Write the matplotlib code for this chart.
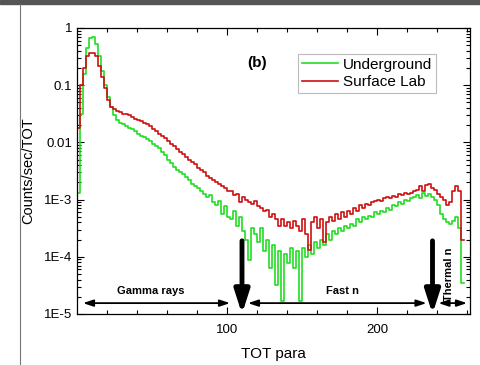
import numpy as np
import matplotlib.pyplot as plt
from matplotlib.lines import Line2D
from matplotlib.patches import Rectangle

plt.rcParams['font.family'] = ['Liberation Sans', 'DejaVu Sans']

# TOT bins (left edges), width 2
bin_width = 2

# Underground spectrum (counts/sec/TOT)
underground = [0.0013, 0.032, 0.16, 0.45, 0.68, 0.69, 0.52, 0.32, 0.18, 0.1,
               0.063, 0.042, 0.03, 0.025, 0.022, 0.021, 0.019, 0.018, 0.017, 0.016,
               0.014, 0.013, 0.0126, 0.0115, 0.0105, 0.0095, 0.0087, 0.0079, 0.0069, 0.006,
               0.005, 0.0043, 0.0037, 0.0033, 0.003, 0.0028, 0.0025, 0.0022, 0.0019, 0.0017,
               0.0016, 0.0014, 0.00126, 0.0011, 0.0012, 0.00089, 0.00079, 0.00095, 0.00056, 0.00076,
               0.0005, 0.00045, 0.00063, 0.00035, 0.0005, 0.00028, 0.0002, 8.9e-5, 0.00032, 0.00025,
               0.00018, 0.00032, 0.000126, 0.0002, 6.3e-5, 0.00016, 3.2e-5, 0.000126, 1.7e-5, 0.000112,
               7.9e-5, 0.00014, 6.3e-5, 0.000126, 1.7e-5, 0.00014, 1e-4, 0.00016, 0.000112, 0.00018,
               0.00014, 0.0002, 0.00016, 0.00025, 0.0002, 0.00028, 0.00025, 0.00032, 0.00028, 0.00035,
               0.00032, 0.00038, 0.00035, 0.00045, 0.0004, 0.0005, 0.00045, 0.00052, 0.0005, 0.0006,
               0.00056, 0.00063, 0.0006, 0.00071, 0.00066, 0.00079, 0.00076, 0.00089, 0.00083, 0.001,
               0.00095, 0.00105, 0.0011, 0.0012, 0.00107, 0.0013, 0.00117, 0.00126, 0.0011, 0.001,
               0.00079, 0.00056, 0.00045, 0.0004, 0.00038, 0.00042, 0.0005, 0.00032, 3.5e-5, 3.5e-5]

# Surface lab spectrum
surface = [0.018, 0.1, 0.2, 0.32, 0.37, 0.37, 0.32, 0.22, 0.14, 0.089,
           0.056, 0.042, 0.038, 0.035, 0.034, 0.032, 0.031, 0.030, 0.028, 0.026,
           0.025, 0.024, 0.022, 0.021, 0.019, 0.017, 0.016, 0.014, 0.013, 0.012,
           0.0107, 0.0095, 0.0085, 0.0076, 0.0068, 0.0063, 0.0055, 0.005, 0.0045, 0.0042,
           0.0036, 0.0033, 0.003, 0.0026, 0.0024, 0.0022, 0.002, 0.0019, 0.0017, 0.0016,
           0.0014, 0.0014, 0.0012, 0.00126, 0.00089, 0.0011, 0.001, 0.00089, 0.00083, 0.00095,
           0.00076, 0.00071, 0.00063, 0.00066, 0.0005, 0.00056, 0.00045, 0.00035, 0.00045, 0.00035,
           0.0004, 0.00032, 0.00042, 0.00035, 0.00028, 0.00045, 0.00025, 0.00013, 0.0004, 0.0005,
           0.00032, 0.00045, 0.00018, 0.0004, 0.0005, 0.00042, 0.00056, 0.00045, 0.0006, 0.0005,
           0.00063, 0.00056, 0.00071, 0.00063, 0.00079, 0.00071, 0.00083, 0.00079, 0.00089, 0.00095,
           0.001, 0.00095, 0.00105, 0.0011, 0.00105, 0.00117, 0.0011, 0.00126, 0.0012, 0.0013,
           0.00126, 0.0013, 0.0014, 0.0015, 0.0017, 0.0014, 0.0018, 0.0019, 0.0016, 0.0015,
           0.00126, 0.0011, 0.001, 0.00079, 0.00089, 0.0014, 0.0017, 0.0014, 0.0002, 0.0002]

x_under = np.arange(len(underground)) * bin_width
x_surf = np.arange(len(surface)) * bin_width

# region markers
boundaries = [110, 237]
regions = [("Gamma rays", 4, 102), ("Fast n", 114, 233), ("Thermal n", 241, 260)]

fig = plt.figure(figsize=(4.81, 3.65), dpi=100)
# frame decorations of the original screenshot
fig.patches.append(Rectangle((0, 361 / 365), 1, 4 / 365, transform=fig.transFigure,
                             color='#555555', zorder=0))
fig.lines.append(Line2D([20 / 481, 20 / 481], [0, 361 / 365], transform=fig.transFigure,
                        color='#777777', lw=0.8))

ax = fig.add_axes([77 / 481, 51 / 365, 393 / 481, 286 / 365])
ax.step(x_under, underground, where='post', color='#22dd22', lw=1.2, label='Underground')
ax.step(x_surf, surface, where='post', color='#cc1111', lw=1.2, label='Surface Lab')

ax.set_yscale('log')
ax.set_ylim(1e-5, 1)
ax.set_xlim(0, 262)
ax.set_yticks([1e-5, 1e-4, 1e-3, 0.01, 0.1, 1])
ax.set_yticklabels(['1E-5', '1E-4', '1E-3', '0.01', '0.1', '1'])
ax.set_xticks([100, 200])
ax.set_xticks(np.arange(20, 262, 20), minor=True)
ax.tick_params(which='both', direction='in', top=True, right=True, labelsize=9.5, width=0.8)
ax.tick_params(which='major', length=5)
ax.tick_params(axis='x', which='major', pad=7)
ax.tick_params(which='minor', length=3)
for s in ax.spines.values():
    s.set_linewidth(0.9)

ax.set_xlabel('TOT para', fontsize=11, labelpad=8)
ax.set_ylabel('Counts/sec/TOT', fontsize=10.5, labelpad=6)

ax.text(120, 0.245, '(b)', fontsize=11, fontweight='bold', ha='center', va='center')

leg = ax.legend(loc='upper left', bbox_to_anchor=(0.562, 0.909), fontsize=11,
                frameon=True, fancybox=False, handlelength=2.4, borderpad=0.25,
                labelspacing=0.2, handletextpad=0.3, borderaxespad=0)
leg.get_frame().set_edgecolor('#aaaaaa')
leg.get_frame().set_linewidth(0.8)

# thick boundary arrows
for bx in boundaries:
    ax.annotate('', xy=(bx, 1e-5), xytext=(bx, 1.9e-4),
                arrowprops=dict(arrowstyle='-|>,head_width=0.45,head_length=1.4',
                                lw=3.5, color='black', shrinkA=0, shrinkB=0))

# double-headed region arrows
for name, x0, x1 in regions:
    ax.annotate('', xy=(x0, 1.55e-5), xytext=(x1, 1.55e-5),
                arrowprops=dict(arrowstyle='<|-|>,head_width=0.2,head_length=0.6',
                                lw=1.3, color='black', shrinkA=0, shrinkB=0))
ax.text(49, 2.5e-5, 'Gamma rays', fontsize=8, fontweight='bold', ha='center', va='center')
ax.text(177, 2.5e-5, 'Fast n', fontsize=8, fontweight='bold', ha='center', va='center')
ax.text(248, 5e-5, 'Thermal n', fontsize=8, fontweight='bold', ha='center', va='center',
        rotation=90)

fig.savefig('out.png', dpi=100)
